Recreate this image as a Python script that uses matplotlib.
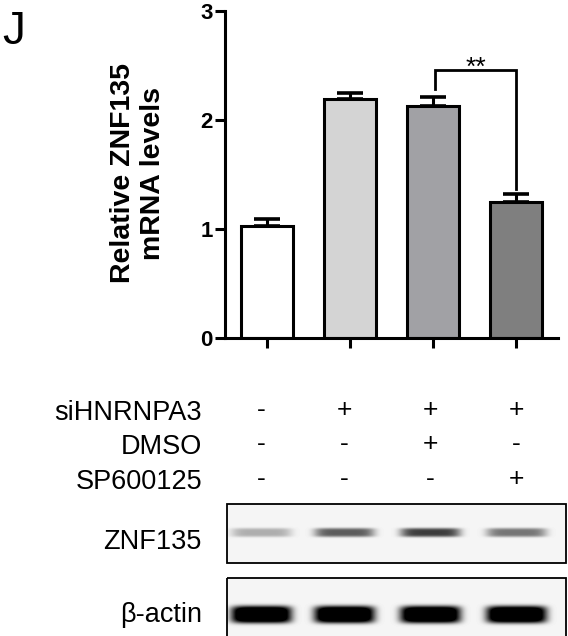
import numpy as np
import matplotlib.pyplot as plt

plt.rcParams['font.family'] = ['Liberation Sans', 'DejaVu Sans']

# bar chart data
groups = ['ctrl', 'siHNRNPA3', 'siHNRNPA3+DMSO', 'siHNRNPA3+SP600125']
means = [1.03, 2.19, 2.13, 1.25]
errs = [0.06, 0.06, 0.08, 0.07]
colors = ['#ffffff', '#d4d4d4', '#a1a1a5', '#7f7f7f']

# treatment table
row_labels = ['siHNRNPA3', 'DMSO', 'SP600125']
row_marks = [['-', '+', '+', '+'],
             ['-', '-', '+', '-'],
             ['-', '-', '-', '+']]

# western blot bands (relative intensity per lane)
blot_labels = ['ZNF135', 'β-actin']
znf_int = [0.28, 0.60, 0.72, 0.50]
actin_int = [1.4, 1.4, 1.4, 1.4]

W, H = 568, 636
fig = plt.figure(figsize=(W / 100, H / 100), dpi=100)

# ---- bar chart ----
ax = fig.add_axes([225 / W, 1 - 338 / H, 333 / W, 327 / H])
x = np.arange(len(means))
ax.bar(x, means, width=0.63, color=colors, edgecolor='black', linewidth=2.2, zorder=2)
ax.errorbar(x, means, yerr=[np.zeros(len(errs)), errs], fmt='none', ecolor='black',
            elinewidth=2.2, capsize=9.5, capthick=2.6, zorder=1)
ax.set_xlim(-0.506, 3.506)
ax.set_ylim(0, 3)
ax.set_yticks([0, 1, 2, 3])
ax.set_xticks(x)
ax.set_xticklabels([])
for s in ['top', 'right']:
    ax.spines[s].set_visible(False)
for s in ['left', 'bottom']:
    ax.spines[s].set_linewidth(2.2)
ax.tick_params(axis='y', length=7, width=2.2, labelsize=16, pad=2)
ax.tick_params(axis='x', length=7, width=2.2)
for t in ax.get_yticklabels():
    t.set_fontweight('bold')

# significance bracket
ax.plot([2.02, 2.02, 3.0, 3.0], [2.28, 2.46, 2.46, 1.37], color='black', lw=2.0,
        solid_joinstyle='miter', clip_on=False)
ax.text(2.52, 2.41, '**', ha='center', va='baseline', fontsize=19)

fig.text(138 / W, 1 - 173 / H, 'Relative ZNF135\nmRNA levels', rotation=90,
         ha='center', va='center', multialignment='center', fontsize=20.5,
         fontweight='bold', linespacing=1.2)
fig.text(2 / W, 1 - 32 / H, 'J', fontsize=33, ha='left', va='center')

# ---- table + blots in pixel coords ----
bx = fig.add_axes([0, 0, 1, 1], zorder=-1)
bx.set_xlim(0, W)
bx.set_ylim(H, 0)
bx.axis('off')

col_x = [261, 344, 430, 516]
row_y = [413, 447, 482]
for lab, yy, marks in zip(row_labels, row_y, row_marks):
    bx.text(202, yy, lab, ha='right', va='center', fontsize=19.5)
    for cx, m in zip(col_x, marks):
        bx.text(cx, yy - 3, m, ha='center', va='center', fontsize=19)


def blot_image(x0, x1, y0, y1, yc, ints, bw, bh, bg=0.96):
    xs = np.arange(x0, x1)
    ys = np.arange(y0, y1)
    XX, YY = np.meshgrid(xs, ys)
    img = np.full(XX.shape, bg)
    dark = np.zeros(XX.shape)
    for cx, a in zip(col_x, ints):
        fx = np.exp(-((XX - cx) / (bw / 2)) ** 6)
        fy = np.exp(-((YY - yc) / (bh / 2)) ** 4)
        dark = np.maximum(dark, a * fx * fy)
    return np.clip(img - dark, 0, 1)


boxes = [(227, 566, 504, 563, 532, znf_int, 60, 9, 542),
         (227, 566, 578, 660, 614, actin_int, 60, 17, 615)]
for lab, (x0, x1, y0, y1, yc, ints, bw, bh, ty) in zip(blot_labels, boxes):
    img = blot_image(x0, x1, y0, y1, yc, ints, bw, bh)
    bx.imshow(img, cmap='gray', vmin=0, vmax=1, extent=[x0, x1, y1, y0],
              aspect='auto', interpolation='bilinear')
    bx.add_patch(plt.Rectangle((x0, y0), x1 - x0, y1 - y0, fill=False,
                               edgecolor='black', lw=1.3))
    bx.text(202, ty, lab, ha='right', va='center', fontsize=19.5)

bx.set_xlim(0, W)
bx.set_ylim(H, 0)

fig.savefig('out.png', dpi=100)
